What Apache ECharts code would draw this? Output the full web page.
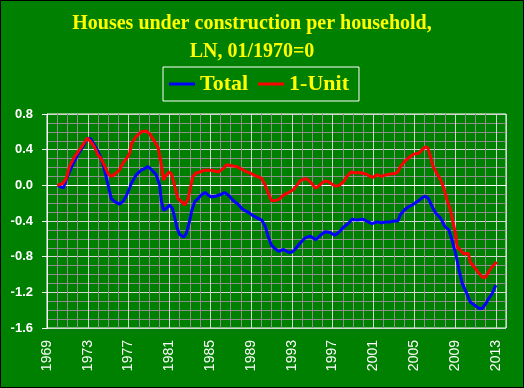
<!DOCTYPE html>
<html>
<head>
<meta charset="utf-8">
<script src="https://cdn.jsdelivr.net/npm/echarts@6/dist/echarts.min.js"></script>
<style>
html,body{margin:0;padding:0;background:#008000;}
#chart{width:524px;height:388px;}
</style>
</head>
<body>
<div id="chart"></div>
<script>
// ---- data ----
const titleLines = ["Houses under construction per household,", "LN, 01/1970=0"];
const seriesNames = ["Total", "1-Unit"];
const yTickLabels = ["-1.6", "-1.2", "-0.8", "-0.4", "0.0", "0.4", "0.8"];
const xTickLabels = ["1969","1973","1977","1981","1985","1989","1993","1997","2001","2005","2009","2013"];

const totalYears = [1970.05,1970.6,1971.0,1971.5,1972.0,1972.5,1973.0,1973.3,1973.65,1974.0,1974.3,1974.6,1975.0,1975.3,1975.6,1976.1,1976.45,1976.8,1977.1,1977.3,1977.75,1978.25,1978.6,1978.9,1979.3,1979.7,1980.05,1980.2,1980.43,1980.7,1981.0,1981.3,1981.5,1981.75,1982.0,1982.4,1982.66,1983.0,1983.2,1983.5,1983.8,1984.1,1984.5,1984.8,1985.1,1985.6,1986.1,1986.4,1986.8,1987.25,1987.7,1988.2,1988.7,1989.2,1989.7,1990.04,1990.4,1990.7,1991.0,1991.35,1991.7,1992.2,1992.66,1993.0,1993.3,1993.8,1994.3,1994.8,1995.1,1995.35,1995.8,1996.27,1996.76,1997.2,1997.6,1998.07,1998.6,1998.9,1999.4,2000.0,2000.5,2000.86,2001.35,2001.8,2002.3,2002.66,2003.0,2003.4,2003.64,2004.0,2004.46,2004.95,2005.45,2005.77,2006.1,2006.4,2006.76,2007.1,2007.6,2008.0,2008.4,2008.7,2009.05,2009.4,2009.7,2010.14,2010.5,2011.0,2011.35,2011.67,2012.0,2012.3,2012.66,2013.0];
const totalValues = [0.0,-0.03,0.10,0.23,0.34,0.43,0.53,0.52,0.45,0.38,0.30,0.19,0.0,-0.15,-0.18,-0.21,-0.18,-0.11,-0.03,0.03,0.12,0.17,0.19,0.21,0.17,0.12,0.0,-0.17,-0.28,-0.26,-0.22,-0.26,-0.35,-0.48,-0.55,-0.58,-0.54,-0.39,-0.28,-0.18,-0.15,-0.11,-0.08,-0.11,-0.13,-0.12,-0.10,-0.08,-0.11,-0.17,-0.21,-0.27,-0.30,-0.34,-0.37,-0.39,-0.46,-0.58,-0.67,-0.71,-0.74,-0.72,-0.75,-0.75,-0.72,-0.65,-0.59,-0.57,-0.59,-0.61,-0.56,-0.52,-0.53,-0.56,-0.53,-0.47,-0.42,-0.38,-0.39,-0.38,-0.41,-0.43,-0.41,-0.42,-0.41,-0.41,-0.40,-0.40,-0.33,-0.28,-0.24,-0.21,-0.17,-0.14,-0.12,-0.15,-0.24,-0.31,-0.37,-0.46,-0.50,-0.61,-0.76,-0.95,-1.10,-1.21,-1.31,-1.35,-1.38,-1.38,-1.33,-1.27,-1.21,-1.12];

const unitYears = [1970.0,1970.55,1970.9,1971.2,1971.7,1972.2,1972.5,1972.95,1973.3,1973.65,1974.0,1974.3,1974.6,1975.0,1975.3,1975.6,1975.9,1976.1,1976.45,1976.8,1977.1,1977.3,1977.75,1978.25,1978.7,1979.05,1979.55,1979.9,1980.15,1980.43,1980.6,1980.96,1981.2,1981.5,1981.84,1982.17,1982.5,1982.83,1983.15,1983.3,1983.65,1983.97,1984.5,1985.1,1985.8,1986.3,1986.6,1987.1,1987.6,1988.1,1988.6,1989.06,1989.55,1990.04,1990.4,1990.7,1991.0,1991.35,1991.7,1992.2,1992.66,1993.15,1993.5,1993.8,1994.14,1994.5,1994.8,1995.1,1995.35,1995.6,1995.9,1996.27,1996.6,1996.99,1997.3,1997.65,1998.07,1998.4,1998.8,1999.2,1999.7,2000.2,2000.7,2001.0,2001.35,2001.8,2002.3,2002.8,2003.1,2003.4,2003.64,2004.0,2004.46,2004.95,2005.45,2005.77,2006.1,2006.33,2006.6,2006.86,2007.25,2007.6,2007.9,2008.2,2008.56,2008.8,2009.05,2009.2,2009.55,2009.87,2010.3,2010.5,2010.85,2011.25,2011.67,2012.0,2012.3,2012.66,2013.1];
const unitValues = [0.0,0.02,0.08,0.21,0.32,0.40,0.45,0.53,0.49,0.43,0.34,0.30,0.23,0.13,0.10,0.12,0.15,0.17,0.25,0.30,0.36,0.47,0.55,0.60,0.61,0.58,0.49,0.42,0.27,0.06,0.10,0.15,0.13,0.0,-0.15,-0.18,-0.22,-0.15,0.02,0.10,0.14,0.15,0.17,0.17,0.15,0.19,0.23,0.22,0.21,0.18,0.15,0.13,0.10,0.08,0.0,-0.09,-0.17,-0.17,-0.16,-0.11,-0.08,-0.05,0.0,0.05,0.07,0.07,0.04,0.0,-0.03,-0.01,0.02,0.05,0.04,0.01,-0.01,0.0,0.04,0.10,0.15,0.14,0.14,0.13,0.10,0.09,0.12,0.10,0.12,0.13,0.13,0.15,0.21,0.26,0.31,0.35,0.36,0.40,0.43,0.42,0.32,0.21,0.13,0.06,-0.03,-0.16,-0.28,-0.41,-0.54,-0.69,-0.73,-0.77,-0.76,-0.86,-0.91,-0.97,-1.03,-1.03,-0.97,-0.91,-0.86];

// ---- chart ----
const zip = (xs, ys) => xs.map((x, i) => [x, ys[i]]);
const chart = echarts.init(document.getElementById('chart'), null, {renderer: 'canvas'});

const yellow = '#ffff00';
const minorGray = '#8e8e8e';
const majorGray = '#d4d4d4';

chart.setOption({
  backgroundColor: '#008000',
  animation: false,
  graphic: [
    {type: 'text', x: 252, y: 24, style: {text: titleLines[0], fill: yellow, font: 'bold 20px "Liberation Serif", "Times New Roman", serif', textAlign: 'center', textVerticalAlign: 'middle'}},
    {type: 'text', x: 252, y: 51.5, style: {text: titleLines[1], fill: yellow, font: 'bold 20px "Liberation Serif", "Times New Roman", serif', textAlign: 'center', textVerticalAlign: 'middle'}},
    {type: 'rect', z: 100, shape: {x: 0.5, y: 0.5, width: 523, height: 387}, style: {fill: 'none', stroke: '#000', lineWidth: 1}}
  ],
  legend: {
    data: seriesNames,
    left: 163, top: 67,
    orient: 'horizontal',
    borderColor: '#ffffff', borderWidth: 1,
    padding: [6, 10, 6, 6],
    itemWidth: 26, itemHeight: 3, itemGap: 10,
    icon: 'rect',
    textStyle: {color: yellow, fontSize: 22, fontWeight: 'bold', fontFamily: '"Liberation Serif", "Times New Roman", serif'}
  },
  grid: {left: 47, right: 18, top: 114, bottom: 60, show: true, borderColor: '#ffffff', borderWidth: 1, backgroundColor: 'transparent'},
  xAxis: [
    {type: 'value', position: 'top', min: 1969, max: 2014, interval: 1,
     axisLine: {show: false}, axisTick: {show: false}, axisLabel: {show: false},
     splitLine: {show: true, lineStyle: {color: minorGray, width: 1}}},
    {type: 'value', position: 'bottom', min: 1969, max: 2014, interval: 4,
     axisLine: {show: true, lineStyle: {color: '#ffffff'}}, axisTick: {show: false},
     axisLabel: {show: true, rotate: 90, margin: 12, color: '#ffffff', fontSize: 14,
       fontFamily: '"Liberation Sans", Arial, sans-serif', showMaxLabel: false,
       formatter: v => { const i = xTickLabels.indexOf(String(Math.round(v))); return i >= 0 ? xTickLabels[i] : ''; }},
     splitLine: {show: true, lineStyle: {color: majorGray, width: 1}}}
  ],
  yAxis: [
    {type: 'value', position: 'right', min: -1.6, max: 0.8, interval: 0.1,
     axisLine: {show: false}, axisTick: {show: false}, axisLabel: {show: false},
     splitLine: {show: true, lineStyle: {color: minorGray, width: 1}}},
    {type: 'value', position: 'left', min: -1.6, max: 0.8, interval: 0.4,
     axisLine: {show: true, lineStyle: {color: '#ffffff'}},
     axisTick: {show: true, length: 5, lineStyle: {color: '#ffffff'}},
     axisLabel: {show: true, margin: 14, color: '#ffffff', fontSize: 13, fontWeight: 'bold',
       fontFamily: '"Liberation Sans", Arial, sans-serif',
       formatter: v => { const s = v.toFixed(1); const i = yTickLabels.indexOf(s === '-0.0' ? '0.0' : s); return i >= 0 ? yTickLabels[i] : ''; }},
     splitLine: {show: true, lineStyle: {color: majorGray, width: 1}}}
  ],
  series: [
    {name: seriesNames[0], type: 'line', xAxisIndex: 1, yAxisIndex: 1, showSymbol: false, symbol: 'none',
     color: '#0000ff', lineStyle: {color: '#0000ff', width: 3}, data: zip(totalYears, totalValues)},
    {name: seriesNames[1], type: 'line', xAxisIndex: 1, yAxisIndex: 1, showSymbol: false, symbol: 'none',
     color: '#ff0000', lineStyle: {color: '#ff0000', width: 3}, data: zip(unitYears, unitValues)}
  ]
});
</script>
</body>
</html>
